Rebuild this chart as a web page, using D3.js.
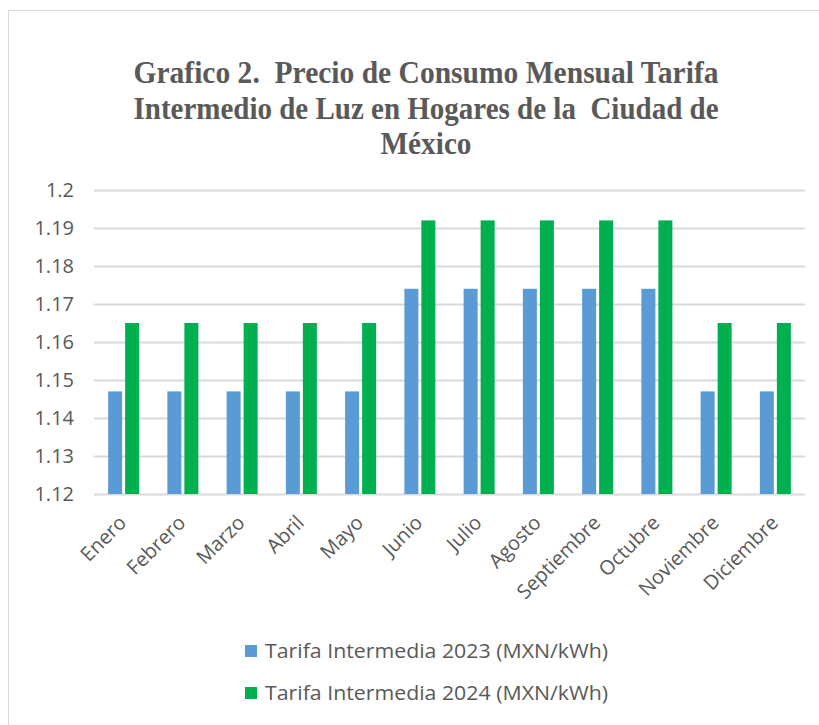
<!DOCTYPE html>
<html>
<head>
<meta charset="utf-8">
<script src="https://cdn.jsdelivr.net/npm/d3@7"></script>
<style>
  body { margin: 0; background: #fff; }
  svg { display: block; }
</style>
</head>
<body>
<svg width="819" height="725"></svg>
<script>
// datos
var meses = ["Enero", "Febrero", "Marzo", "Abril", "Mayo", "Junio", "Julio",
             "Agosto", "Septiembre", "Octubre", "Noviembre", "Diciembre"];
var tarifa2023 = [1.147, 1.147, 1.147, 1.147, 1.147, 1.174, 1.174, 1.174, 1.174, 1.174, 1.147, 1.147];
var tarifa2024 = [1.165, 1.165, 1.165, 1.165, 1.165, 1.192, 1.192, 1.192, 1.192, 1.192, 1.165, 1.165];
var series = ["Tarifa Intermedia 2023 (MXN/kWh)", "Tarifa Intermedia 2024 (MXN/kWh)"];
var yTicks = [1.12, 1.13, 1.14, 1.15, 1.16, 1.17, 1.18, 1.19, 1.2];
var titulo = ["Grafico 2.  Precio de Consumo Mensual Tarifa",
              "Intermedio de Luz en Hogares de la  Ciudad de",
              "México"];

var colores = ["#5B9BD5", "#00B050"];
var gris = "#595959";
var sans = "'Open Sans', 'Liberation Sans', sans-serif";

var svg = d3.select("svg");

// marco del grafico
svg.append("rect")
    .attr("x", 8.5).attr("y", 10.5)
    .attr("width", 830).attr("height", 730)
    .attr("fill", "#fff")
    .attr("stroke", "#d9d9d9");

// titulo
var tituloY = [83, 119, 154];
var tituloW = [585, 585, 91];
svg.selectAll("text.titulo")
    .data(titulo)
    .enter().append("text")
    .attr("class", "titulo")
    .attr("x", 426)
    .attr("y", function (d, i) { return tituloY[i]; })
    .attr("text-anchor", "middle")
    .attr("textLength", function (d, i) { return tituloW[i]; })
    .attr("lengthAdjust", "spacingAndGlyphs")
    .style("white-space", "pre")
    .style("font-family", "'Liberation Serif', 'DejaVu Serif', serif")
    .style("font-weight", "bold")
    .style("font-size", "31px")
    .style("fill", gris)
    .text(function (d) { return d; });

var x0 = 94, x1 = 805, yTop = 190, yBot = 494;

var x = d3.scaleBand().domain(meses).range([x0, x1]).paddingInner(0).paddingOuter(0);
var y = d3.scaleLinear().domain([1.12, 1.2]).range([yBot, yTop]);

// rejilla
var yAxis = d3.axisLeft(y).tickValues(yTicks).tickSize(-(x1 - x0)).tickPadding(20)
    .tickFormat(function (d) { return d3.format("")(+d.toFixed(2)); });
var gy = svg.append("g").attr("transform", "translate(" + x0 + ",0)").call(yAxis);
gy.select(".domain").remove();
gy.selectAll(".tick line").attr("stroke", "#d9d9d9").attr("stroke-width", 2);
gy.selectAll(".tick text")
    .style("font-family", sans)
    .style("font-size", "20px")
    .style("fill", gris);

// barras
var barW = 14, gap = 3;
var g = svg.append("g");
[tarifa2023, tarifa2024].forEach(function (vals, s) {
    g.selectAll("rect.s" + s)
        .data(vals)
        .enter().append("rect")
        .attr("class", "s" + s)
        .attr("x", function (d, i) {
            var c = x(meses[i]) + x.bandwidth() / 2;
            return s === 0 ? c - gap / 2 - barW : c + gap / 2;
        })
        .attr("y", function (d) { return y(d); })
        .attr("width", barW)
        .attr("height", function (d) { return yBot - y(d); })
        .attr("fill", colores[s]);
});

// etiquetas del eje x
svg.selectAll("text.mes")
    .data(meses)
    .enter().append("text")
    .attr("class", "mes")
    .attr("transform", function (d) {
        return "translate(" + (x(d) + x.bandwidth() / 2 + 4) + "," + (yBot + 30) + ") rotate(-45)";
    })
    .attr("text-anchor", "end")
    .style("font-family", sans)
    .style("font-size", "20px")
    .style("fill", gris)
    .text(function (d) { return d; });

// leyenda
var leyY = [651, 693];
var ley = svg.selectAll("g.ley")
    .data(series)
    .enter().append("g")
    .attr("class", "ley")
    .attr("transform", function (d, i) { return "translate(245," + leyY[i] + ")"; });
ley.append("rect")
    .attr("x", 0).attr("y", -6)
    .attr("width", 12).attr("height", 12)
    .attr("fill", function (d, i) { return colores[i]; });
ley.append("text")
    .attr("x", 20).attr("y", 7)
    .attr("textLength", 343)
    .attr("lengthAdjust", "spacingAndGlyphs")
    .style("font-family", sans)
    .style("font-size", "20px")
    .style("fill", gris)
    .text(function (d) { return d; });
</script>
</body>
</html>
